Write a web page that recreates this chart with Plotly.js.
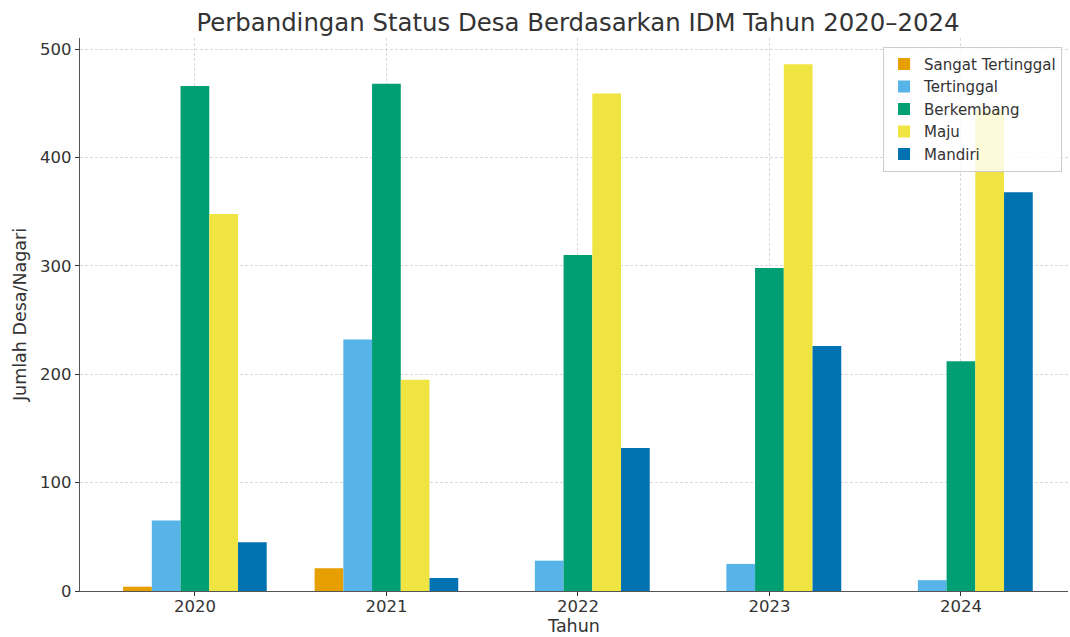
<!DOCTYPE html>
<html>
<head>
<meta charset="utf-8">
<script src="https://cdn.plot.ly/plotly-3.0.1.min.js"></script>
<style>html,body{margin:0;padding:0;background:#fff;}#chart{width:1070px;height:637px;}</style>
</head>
<body>
<div id="chart"></div>
<script>
const years = ["2020", "2021", "2022", "2023", "2024"];
const sangatTertinggal = [4, 21, 0, 0, 0];
const tertinggal = [65, 232, 28, 25, 10];
const berkembang = [466, 468, 310, 298, 212];
const maju = [348, 195, 459, 486, 444];
const mandiri = [45, 12, 132, 226, 368];

const seriesNames = ["Sangat Tertinggal", "Tertinggal", "Berkembang", "Maju", "Mandiri"];
const seriesValues = [sangatTertinggal, tertinggal, berkembang, maju, mandiri];
const seriesColors = ["#E69F00", "#56B4E9", "#009E73", "#F0E442", "#0072B2"];

const font = "DejaVu Sans, sans-serif";
const traces = seriesNames.map((n, i) => ({
  type: "bar",
  name: n,
  x: years,
  y: seriesValues[i],
  marker: {color: seriesColors[i], line: {width: 0}},
  hoverinfo: "x+y+name"
}));

const layout = {
  width: 1070, height: 637,
  margin: {l: 80, r: 2, t: 38, b: 46},
  paper_bgcolor: "#fff", plot_bgcolor: "#fff",
  font: {family: font, color: "#333", size: 16.5},
  barmode: "group",
  bargap: 0.25,
  bargroupgap: 0,
  title: {text: "Perbandingan Status Desa Berdasarkan IDM Tahun 2020–2024",
          font: {family: font, size: 24.4, color: "#333"},
          x: 0.504, xref: "paper", xanchor: "center", y: 0.965, yref: "container", yanchor: "middle"},
  xaxis: {
    type: "category",
    range: [-0.6, 4.559],
    automargin: false,
    title: {text: "Tahun", font: {family: font, size: 17.5, color: "#333"}, standoff: 2},
    showgrid: true, gridcolor: "#d0d0d0", griddash: "3px,2px", gridwidth: 0.8,
    ticks: "outside", ticklen: 4, tickcolor: "#333", tickwidth: 1,
    ticklabelstandoff: -4,
    tickfont: {family: font, size: 16.5, color: "#333"},
    showline: true, linecolor: "#555", linewidth: 1.2,
    zeroline: false, fixedrange: true
  },
  yaxis: {
    range: [0, 510.3],
    automargin: false,
    tickvals: [0, 100, 200, 300, 400, 500],
    title: {text: "Jumlah Desa/Nagari", font: {family: font, size: 17.5, color: "#333"}, standoff: 8},
    showgrid: true, gridcolor: "#d0d0d0", griddash: "3px,2px", gridwidth: 0.8,
    ticks: "outside", ticklen: 4, tickcolor: "#333", tickwidth: 1,
    tickfont: {family: font, size: 16.5, color: "#333"},
    showline: true, linecolor: "#555", linewidth: 1.2,
    zeroline: false, fixedrange: true
  },
  legend: {
    x: 0.8128, y: 0.984, xanchor: "left", yanchor: "top",
    xref: "paper", yref: "paper",
    bgcolor: "rgba(255,255,255,0.8)", bordercolor: "#cccccc", borderwidth: 1,
    font: {family: font, size: 15, color: "#333"},
    tracegroupgap: 0, itemwidth: 30
  },
  showlegend: true
};

Plotly.newPlot("chart", traces, layout, {displayModeBar: false, staticPlot: true});
</script>
</body>
</html>
